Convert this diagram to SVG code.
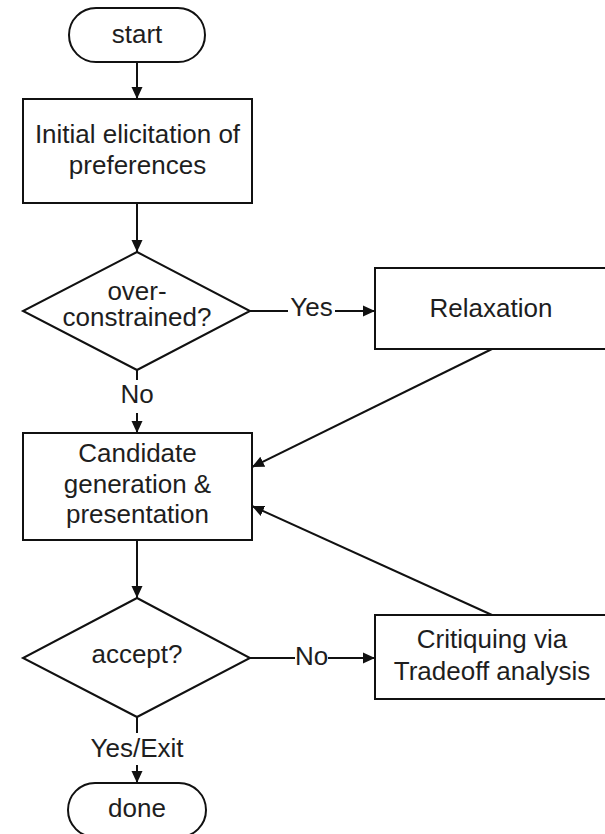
<svg xmlns="http://www.w3.org/2000/svg" width="605" height="834" viewBox="0 0 605 834">
  <style>
    .shape { fill: #ffffff; stroke: #111111; stroke-width: 2; }
    .edge { fill: none; stroke: #111111; stroke-width: 2; }
    text { font-family: "Liberation Sans", Arial, sans-serif; font-size: 26px; fill: #1e1e1e; text-anchor: middle; }
  </style>
  <defs>
    <marker id="arrow" markerUnits="userSpaceOnUse" markerWidth="12" markerHeight="12" viewBox="0 0 12 12" refX="12" refY="6" orient="auto">
      <path d="M0,0.5 L12,6 L0,11.5 Z" fill="#111111"/>
    </marker>
  </defs>
  <rect width="605" height="834" fill="#ffffff"/>

  <!-- connectors -->
  <g id="connectors">
    <line class="edge" x1="137" y1="62" x2="137" y2="99" marker-end="url(#arrow)"/>
    <line class="edge" x1="137" y1="203" x2="137" y2="252" marker-end="url(#arrow)"/>
    <!-- over-constrained? : Yes -->
    <line class="edge" x1="250" y1="311" x2="288" y2="311"/>
    <text x="311.5" y="316">Yes</text>
    <line class="edge" x1="335" y1="311" x2="375" y2="311" marker-end="url(#arrow)"/>
    <!-- over-constrained? : No -->
    <line class="edge" x1="137" y1="370" x2="137" y2="380"/>
    <text x="137" y="403">No</text>
    <line class="edge" x1="137" y1="413" x2="137" y2="433" marker-end="url(#arrow)"/>
    <!-- Relaxation back into candidate generation -->
    <line class="edge" x1="492" y1="349" x2="252" y2="467" marker-end="url(#arrow)"/>
    <!-- Critiquing back into candidate generation -->
    <line class="edge" x1="492" y1="615" x2="252" y2="506" marker-end="url(#arrow)"/>
    <line class="edge" x1="137" y1="540" x2="137" y2="598" marker-end="url(#arrow)"/>
    <!-- accept? : No -->
    <line class="edge" x1="250" y1="658" x2="295" y2="658"/>
    <text x="311.5" y="665">No</text>
    <line class="edge" x1="328" y1="658" x2="375" y2="658" marker-end="url(#arrow)"/>
    <!-- accept? : Yes/Exit -->
    <line class="edge" x1="137" y1="717" x2="137" y2="733"/>
    <text x="137" y="757">Yes/Exit</text>
    <line class="edge" x1="137" y1="765" x2="137" y2="783" marker-end="url(#arrow)"/>
  </g>

  <g id="start">
    <rect class="shape" x="69" y="8" width="136" height="54" rx="27" ry="27"/>
    <text x="137" y="43">start</text>
  </g>

  <g id="elicitation">
    <rect class="shape" x="23" y="99" width="229" height="104"/>
    <text x="137.5" y="143">Initial elicitation of</text>
    <text x="137.5" y="174">preferences</text>
  </g>

  <g id="overconstrained">
    <polygon class="shape" points="137,252 250,311 137,370 23,311"/>
    <text x="137" y="300">over-</text>
    <text x="137" y="326">constrained?</text>
  </g>

  <g id="relaxation">
    <rect class="shape" x="375" y="268" width="232" height="81"/>
    <text x="491" y="317">Relaxation</text>
  </g>

  <g id="candidates">
    <rect class="shape" x="23" y="433" width="229" height="107"/>
    <text x="137.5" y="462">Candidate</text>
    <text x="137.5" y="493">generation &amp;</text>
    <text x="137.5" y="523">presentation</text>
  </g>

  <g id="accept">
    <polygon class="shape" points="137,598 250,658 137,717 23,658"/>
    <text x="137" y="663">accept?</text>
  </g>

  <g id="critiquing">
    <rect class="shape" x="375" y="615" width="232" height="84"/>
    <text x="492" y="648">Critiquing via</text>
    <text x="492" y="680">Tradeoff analysis</text>
  </g>

  <g id="done">
    <rect class="shape" x="68" y="783" width="138" height="54" rx="27" ry="27"/>
    <text x="137" y="817">done</text>
  </g>
</svg>
